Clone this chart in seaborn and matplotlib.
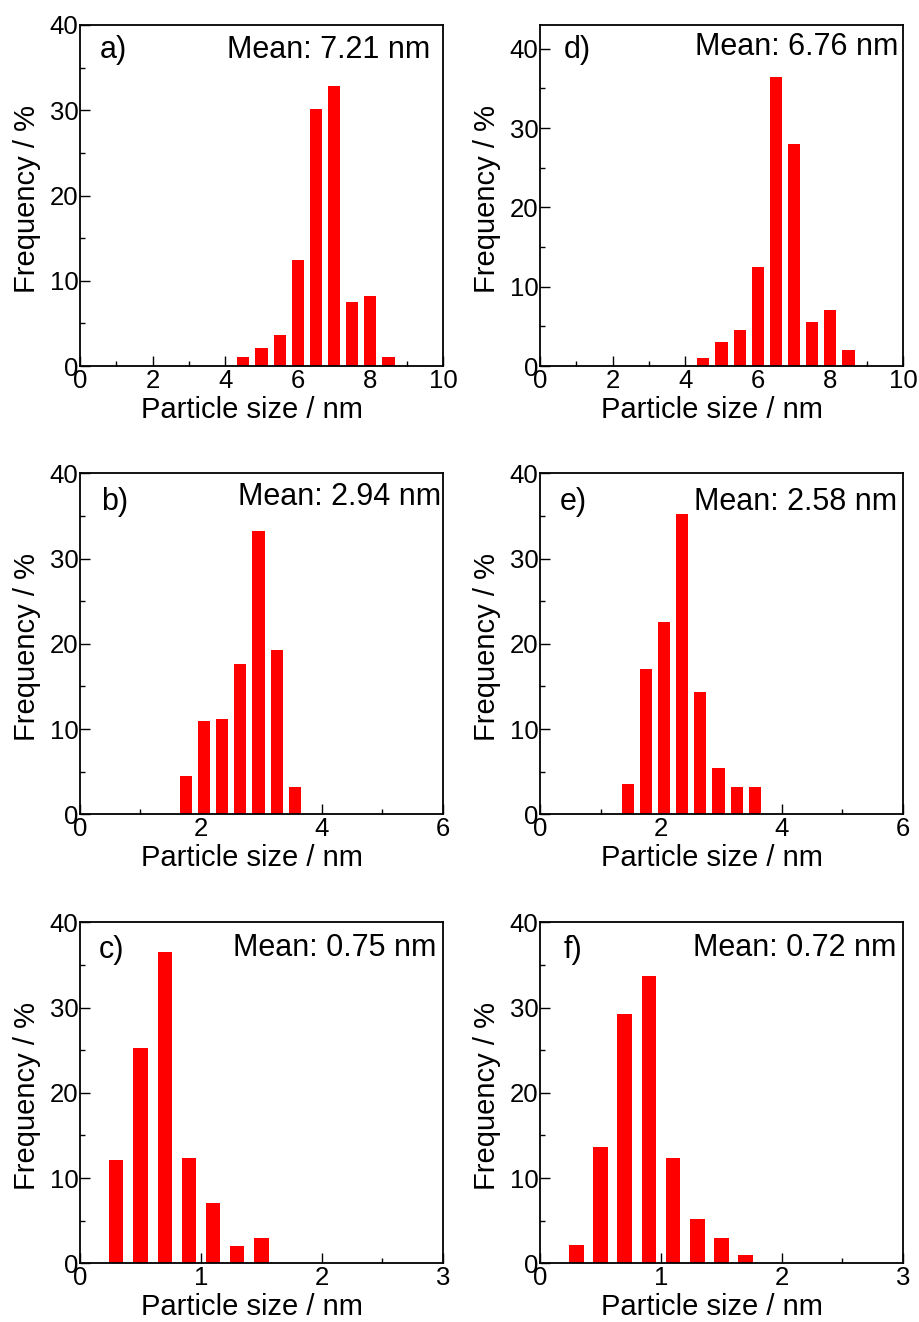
import numpy as np
import pandas as pd
import matplotlib
matplotlib.use("Agg")
import matplotlib.pyplot as plt
from matplotlib.ticker import MultipleLocator, FormatStrFormatter
import seaborn as sns

sns.set_theme(style="ticks")
plt.rcParams["font.family"] = ["Liberation Sans", "DejaVu Sans"]
plt.rcParams.update({
    "text.color": "black",
    "axes.labelcolor": "black",
    "xtick.color": "black",
    "ytick.color": "black",
    "axes.edgecolor": "black",
})

# Particle size distributions (bin centre in nm, frequency in %)
size_a = [4.5, 5.0, 5.5, 6.0, 6.5, 7.0, 7.5, 8.0, 8.5]
freq_a = [1.0, 2.1, 3.6, 12.4, 30.2, 32.9, 7.5, 8.2, 1.0]

size_b = [1.75, 2.05, 2.35, 2.65, 2.95, 3.25, 3.55]
freq_b = [4.5, 11.0, 11.2, 17.6, 33.2, 19.3, 3.2]

size_c = [0.3, 0.5, 0.7, 0.9, 1.1, 1.3, 1.5]
freq_c = [12.1, 25.2, 36.5, 12.3, 7.1, 2.0, 3.0]

size_d = [4.5, 5.0, 5.5, 6.0, 6.5, 7.0, 7.5, 8.0, 8.5]
freq_d = [1.0, 3.0, 4.6, 12.5, 36.5, 28.0, 5.6, 7.1, 2.0]

size_e = [1.45, 1.75, 2.05, 2.35, 2.65, 2.95, 3.25, 3.55]
freq_e = [3.5, 17.0, 22.6, 35.2, 14.3, 5.4, 3.2, 3.2]

size_f = [0.3, 0.5, 0.7, 0.9, 1.1, 1.3, 1.5, 1.7]
freq_f = [2.2, 13.6, 29.2, 33.7, 12.3, 5.2, 3.0, 1.0]

panel_tags = ["a)", "b)", "c)", "d)", "e)", "f)"]
mean_labels = ["Mean: 7.21 nm", "Mean: 2.94 nm", "Mean: 0.75 nm",
               "Mean: 6.76 nm", "Mean: 2.58 nm", "Mean: 0.72 nm"]

panels = [
    # sizes, freqs, xmax, major, minor, ymax, bar width, tag pos, mean pos
    (size_a, freq_a, 10, 2, 1, 40, 0.67, (0.055, 0.927), (0.964, 0.927)),
    (size_b, freq_b, 6, 2, 1, 40, 0.67, (0.058, 0.916), (0.995, 0.930)),
    (size_c, freq_c, 3, 1, 0.5, 40, 0.59, (0.052, 0.919), (0.983, 0.925)),
    (size_d, freq_d, 10, 2, 1, 43, 0.67, (0.066, 0.927), (0.986, 0.935)),
    (size_e, freq_e, 6, 2, 1, 40, 0.67, (0.055, 0.916), (0.983, 0.916)),
    (size_f, freq_f, 3, 1, 0.5, 40, 0.60, (0.064, 0.919), (0.983, 0.925)),
]

W, H = 920, 1322
fig = plt.figure(figsize=(W / 100, H / 100), dpi=100)
fig.patch.set_facecolor("white")

col_left = [80, 540]
row_top = [25, 473.3, 922.3]
ax_w, ax_h = 363, 341

for i, (sz, fq, xmax, maj, mnr, ymax, bw, tag_pos, mean_pos) in enumerate(panels):
    col, row = divmod(i, 3)
    left = col_left[col] / W
    bottom = 1 - (row_top[row] + ax_h) / H
    ax = fig.add_axes([left, bottom, ax_w / W, ax_h / H])

    df = pd.DataFrame({"size": sz, "freq": fq})
    sns.barplot(data=df, x="size", y="freq", native_scale=True, width=bw,
                color="#FF0000", saturation=1, errorbar=None,
                linewidth=0, ax=ax)

    ax.set_xlim(0, xmax)
    ax.set_ylim(0, ymax)
    ax.xaxis.set_major_locator(MultipleLocator(maj))
    ax.xaxis.set_minor_locator(MultipleLocator(mnr))
    ax.yaxis.set_major_locator(MultipleLocator(10))
    ax.yaxis.set_minor_locator(MultipleLocator(5))
    ax.xaxis.set_major_formatter(FormatStrFormatter("%g"))
    ax.yaxis.set_major_formatter(FormatStrFormatter("%g"))

    ax.tick_params(which="both", direction="in", top=False, right=False,
                   width=1.0, color="black")
    ax.tick_params(which="major", length=7)
    ax.tick_params(which="minor", length=3.5)
    ax.tick_params(axis="x", which="major", labelsize=18.5, pad=2)
    ax.tick_params(axis="y", which="major", labelsize=18.5, pad=1)

    for sp in ax.spines.values():
        sp.set_visible(True)
        sp.set_linewidth(1.3)
        sp.set_color("black")

    ax.set_xlabel("Particle size / nm", fontsize=21)
    ax.set_ylabel("Frequency / %", fontsize=21)
    ax.xaxis.set_label_coords(0.473, -0.088)
    ax.yaxis.set_label_coords(-0.108, 0.49)

    ax.text(tag_pos[0], tag_pos[1], panel_tags[i], transform=ax.transAxes,
            fontsize=22, ha="left", va="center")
    ax.text(mean_pos[0], mean_pos[1], mean_labels[i], transform=ax.transAxes,
            fontsize=22, ha="right", va="center")

fig.savefig("out.png", dpi=100, facecolor="white")
